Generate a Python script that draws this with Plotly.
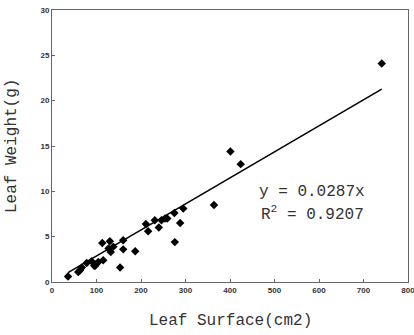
import plotly.graph_objects as go

leaf_surface = [36, 59, 63, 67, 78, 89, 95, 97, 100, 104, 113, 115, 127, 130, 132, 138,
                153, 160, 160, 187, 211, 216, 231, 240, 246, 254, 259, 275, 276, 288,
                295, 364, 401, 424, 741]
leaf_weight = [0.6, 1.1, 1.3, 1.6, 2.1, 2.3, 1.8, 1.8, 2.0, 2.2, 4.3, 2.4, 3.7, 4.5, 3.3, 3.9,
               1.6, 4.6, 3.6, 3.4, 6.4, 5.6, 6.8, 6.0, 6.8, 7.0, 7.0, 7.6, 4.4, 6.5,
               8.1, 8.5, 14.4, 13.0, 24.1]
slope = 0.0287
r2 = 0.9207
x_ticks = [0, 100, 200, 300, 400, 500, 600, 700, 800]
y_ticks = [0, 5, 10, 15, 20, 25, 30]

xmin, xmax = min(leaf_surface), max(leaf_surface)
fit_x = [xmin, xmax]
fit_y = [slope * v for v in fit_x]

fig = go.Figure()
fig.add_trace(go.Scatter(x=fit_x, y=fit_y, mode="lines",
                         line=dict(color="black", width=1.6), hoverinfo="skip"))
fig.add_trace(go.Scatter(x=leaf_surface, y=leaf_weight, mode="markers",
                         marker=dict(symbol="diamond", color="black", size=6.5)))

tickfont = dict(family="Liberation Sans", size=8, color="#333", weight="bold")
axis_common = dict(showline=True, linecolor="#666", linewidth=1, mirror=True,
                   ticks="inside", ticklen=3, tickcolor="#666", showgrid=False,
                   zeroline=False, tickfont=tickfont, automargin=False)
fig.update_xaxes(range=[0, 800], tickvals=x_ticks, ticktext=[str(v) for v in x_ticks],
                 ticklabeloverflow="allow", **axis_common)
fig.update_yaxes(range=[0, 30], tickvals=y_ticks, ticktext=[str(v) for v in y_ticks],
                 **axis_common)

title_font = dict(family="Liberation Mono", size=16, color="#333")
fig.add_annotation(text="Leaf Surface(cm2)", xref="paper", yref="paper", x=0.5, y=0,
                   yshift=-39, showarrow=False, font=title_font,
                   xanchor="center", yanchor="middle")
fig.add_annotation(text="Leaf Weight(g)", xref="paper", yref="paper", x=0, y=0.5,
                   xshift=-40, textangle=-90, showarrow=False, font=title_font,
                   xanchor="center", yanchor="middle")
fig.add_annotation(text=f"y = {slope}x", xref="x", yref="y", x=585, y=9.9,
                   showarrow=False, font=title_font, xanchor="center", yanchor="middle")
fig.add_annotation(text=f"R<sup>2</sup> = {r2}", xref="x", yref="y", x=585, y=7.6,
                   showarrow=False, font=title_font, xanchor="center", yanchor="middle")

fig.update_layout(width=414, height=335, margin=dict(l=52, r=6, t=10, b=53, autoexpand=False),
                  showlegend=False, plot_bgcolor="white", paper_bgcolor="white")
fig.write_html("out.html")
